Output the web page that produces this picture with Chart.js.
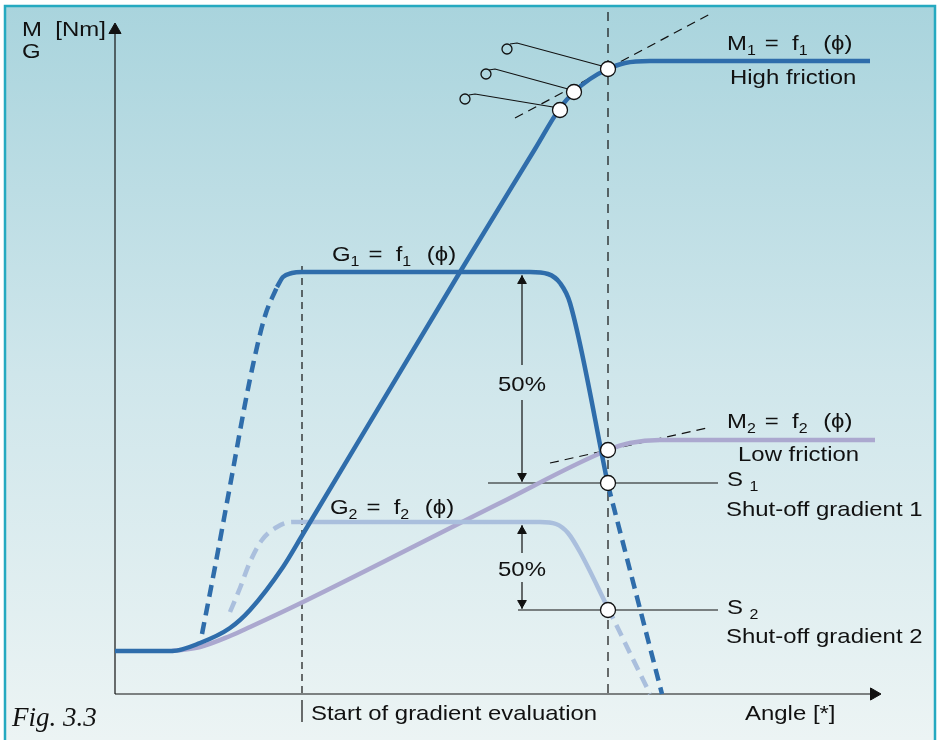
<!DOCTYPE html>
<html>
<head>
<meta charset="utf-8">
<script src="https://cdn.jsdelivr.net/npm/chart.js@4"></script>
<style>
    html, body { margin: 0; padding: 0; background: #fff; }
    #wrap { width: 940px; height: 740px; position: relative; }
</style>
</head>
<body>
<div id="wrap"><canvas id="fig"></canvas></div>
<script>
/**
 * Fig. 3.3 - tightening torque M and gradient G over angle,
 * high friction (1) vs low friction (2), with shut-off gradients.
 * Units: x = angle (axis origin 0), y = M / G (axis origin 0).
 */

// Torque curves
const m1Angle = [0, 57, 85, 115, 135, 168, 188, 345, 420, 445, 459, 475, 493, 510, 535, 755];
const m1Value = [43, 43, 51, 66, 84, 127, 160, 422, 545, 586, 602, 615, 625, 631, 633, 633];
const m2Angle = [57, 85, 115, 135, 188, 385, 493, 515, 545, 760];
const m2Value = [43, 47, 58, 67, 92, 191, 244, 251, 254, 254];

// Gradient curves (rise / evaluated plateau / fall)
const g1RiseAngle = [87, 100, 115, 135, 150, 162];
const g1RiseValue = [60, 127, 208, 315, 378, 407];
const g1Angle = [162, 168, 177, 187, 415, 433, 445, 455, 493];
const g1Value = [407, 417, 421, 422, 422, 420, 411, 391, 209];
const g1FallAngle = [493, 547];
const g1FallValue = [209, 0];

const g2RiseAngle = [115, 125, 135, 147, 162, 177, 187];
const g2RiseValue = [82, 106, 132, 154, 167, 172, 172];
const g2Angle = [187, 425, 441, 453, 465, 493];
const g2Value = [172, 172, 170, 161, 142, 86];
const g2FallAngle = [493, 535];
const g2FallValue = [86, 0];

// Tangents, markers and shut-off levels
const startAngle = 187;
const shutAngle = 493;
const s1Level = 211;
const s2Level = 84;
const m1TangentAngle = [400, 595];
const m1TangentValue = [576, 680];
const m2TangentAngle = [435, 592];
const m2TangentValue = [231, 266];
const markerAngle = [493, 459, 445, 493, 493, 493];
const markerValue = [625, 602, 584, 244, 211, 84];
const tagAngle = [392, 371, 350];
const tagValue = [645, 620, 595];
const leaderAngle = [[395, 402, 487], [374, 380, 453], [354, 360, 438]];
const leaderValue = [[650, 651, 628], [624, 625, 605], [599, 600, 587]];
const pctAngle = 407;

const DARK = '#2f6dab';
const LIGHT = '#aabfdd';
const LAV = '#aba8cf';
const INK = '#111';

const pts = (xs, ys) => xs.map((x, i) => ({ x, y: ys[i] }));

function curve(xs, ys, color, dash, order) {
    return {
        data: pts(xs, ys),
        showLine: true,
        borderColor: color,
        borderWidth: 4.5,
        borderDash: dash || [],
        borderCapStyle: 'butt',
        cubicInterpolationMode: 'monotone',
        pointRadius: 0,
        order
    };
}

function thin(xs, ys, dash, order) {
    return {
        data: pts(xs, ys),
        showLine: true,
        borderColor: INK,
        borderWidth: 1.2,
        borderDash: dash || [],
        tension: 0,
        pointRadius: 0,
        order
    };
}

function arrowHeads(list) {
    return {
        data: list.map(a => ({ x: a[0], y: a[1] })),
        showLine: false,
        pointStyle: 'triangle',
        pointRadius: list.map(a => a[3]),
        pointRotation: list.map(a => a[2]),
        pointBackgroundColor: INK,
        pointBorderColor: INK,
        pointBorderWidth: 1,
        order: 1
    };
}

const datasets = [
    // open circles on top
    {
        data: pts(markerAngle, markerValue), showLine: false,
        pointRadius: 7.5, pointBackgroundColor: '#fff', pointBorderColor: INK, pointBorderWidth: 1.3, order: 0
    },
    {
        data: pts(tagAngle, tagValue), showLine: false,
        pointRadius: 5, pointBackgroundColor: 'rgba(0,0,0,0)', pointBorderColor: INK, pointBorderWidth: 1.3, order: 0
    },
    ...leaderAngle.map((xs, i) => thin(xs, leaderValue[i], [], 2)),
    arrowHeads([
        [0, 664, 0, 7], [759, 0, 90, 7],
        [pctAngle, 413, 0, 5], [pctAngle, 218, 180, 5],
        [pctAngle, 163, 0, 5], [pctAngle, 91, 180, 5]
    ]),
    curve(m1Angle, m1Value, DARK, null, 3),
    curve(g1RiseAngle, g1RiseValue, DARK, [12, 7], 3),
    curve(g1Angle, g1Value, DARK, null, 3),
    curve(g1FallAngle, g1FallValue, DARK, [12, 7], 3),
    curve(g2RiseAngle, g2RiseValue, LIGHT, [12, 7], 4),
    curve(g2Angle, g2Value, LIGHT, null, 4),
    curve(g2FallAngle, g2FallValue, LIGHT, [12, 7], 4),
    curve(m2Angle, m2Value, LAV, null, 4),
    // axes
    thin([0, 0], [0, 662], [], 5),
    thin([0, 760], [0, 0], [], 5),
    // guides
    thin([startAngle, startAngle], [428, 0], [7, 5], 6),
    thin([startAngle, startAngle], [-6, -28], [], 6),
    thin([shutAngle, shutAngle], [682, 0], [9, 7], 6),
    thin(m1TangentAngle, m1TangentValue, [9, 6], 6),
    thin(m2TangentAngle, m2TangentValue, [9, 6], 6),
    thin([373, 603], [s1Level, s1Level], [], 6),
    thin([403, 603], [s2Level, s2Level], [], 6),
    thin([pctAngle, pctAngle], [419, 329], [], 6),
    thin([pctAngle, pctAngle], [294, 212], [], 6),
    thin([pctAngle, pctAngle], [169, 141], [], 6),
    thin([pctAngle, pctAngle], [112, 85], [], 6)
].map(d => ({ ...d, label: '' }));

/** Panel background with teal frame */
const panelBg = {
    id: 'panelBg',
    beforeDraw(chart) {
        const { ctx, width, height } = chart;
        ctx.save();
        ctx.fillStyle = '#fff';
        ctx.fillRect(0, 0, width, height);
        const g = ctx.createLinearGradient(0, 6, 0, height);
        g.addColorStop(0, '#a9d4dd');
        g.addColorStop(0.5, '#cfe6eb');
        g.addColorStop(1, '#ecf4f4');
        ctx.fillStyle = g;
        ctx.fillRect(5, 6, 930, height - 6);
        ctx.strokeStyle = '#25a9c0';
        ctx.lineWidth = 2.5;
        ctx.beginPath();
        ctx.moveTo(5, height);
        ctx.lineTo(5, 6);
        ctx.lineTo(935, 6);
        ctx.lineTo(935, height);
        ctx.stroke();
        ctx.restore();
    }
};

// Labels: [angle, value, parts]; a part string is normal text, an array is a subscript
const labels = [
    [-93, 664, ['M  [Nm]']],
    [-93, 642, ['G']],
    [612, 650, ['M', ['1'], ' =  f', ['1'], '  (ϕ)']],
    [615, 616, ['High friction']],
    [217, 439, ['G', ['1'], ' =  f', ['1'], '  (ϕ)']],
    [215, 186, ['G', ['2'], ' =  f', ['2'], '  (ϕ)']],
    [612, 272, ['M', ['2'], ' =  f', ['2'], '  (ϕ)']],
    [623, 239, ['Low friction']],
    [612, 214, ['S ', ['1']]],
    [611, 184, ['Shut-off gradient 1']],
    [612, 86, ['S ', ['2']]],
    [611, 57, ['Shut-off gradient 2']],
    [383, 309, ['50%']],
    [383, 124, ['50%']],
    [196, -20, ['Start of gradient evaluation']],
    [630, -20, ['Angle [*]']]
];

/** Draw text annotations at data positions (glyphs are a little wide in the original) */
const annotations = {
    id: 'annotations',
    afterDatasetsDraw(chart) {
        const { ctx, scales: { x, y } } = chart;
        ctx.save();
        ctx.fillStyle = INK;
        ctx.textBaseline = 'middle';
        ctx.textAlign = 'left';
        labels.forEach(([ax, av, parts]) => {
            ctx.save();
            ctx.translate(x.getPixelForValue(ax), y.getPixelForValue(av));
            ctx.scale(1.14, 1);
            let px = 0;
            parts.forEach(p => {
                const sub = Array.isArray(p);
                ctx.font = sub ? '14px "Liberation Sans", Arial, sans-serif' : '21px "Liberation Sans", Arial, sans-serif';
                const t = sub ? p[0] : p;
                ctx.fillText(t, px, sub ? 7 : 0);
                px += ctx.measureText(t).width + (sub ? 2 : 0);
            });
            ctx.restore();
        });
        ctx.font = 'italic 27px "Liberation Serif", "Times New Roman", serif';
        ctx.fillText('Fig. 3.3', x.getPixelForValue(-103), y.getPixelForValue(-25));
        ctx.restore();
    }
};

new Chart(document.getElementById('fig'), {
    type: 'scatter',
    data: { datasets },
    options: {
        responsive: true,
        maintainAspectRatio: false,
        animation: false,
        layout: { padding: 0, autoPadding: false },
        plugins: { legend: { display: false }, tooltip: { enabled: false } },
        scales: {
            x: { type: 'linear', min: -115, max: 825, display: false },
            y: { type: 'linear', min: -46, max: 694, display: false }
        }
    },
    plugins: [panelBg, annotations]
});
</script>
</body>
</html>
